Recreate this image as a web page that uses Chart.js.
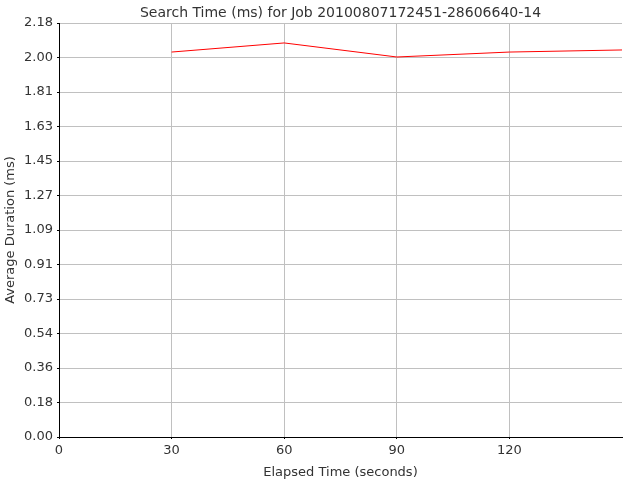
<!DOCTYPE html>
<html>
<head>
<meta charset="utf-8">
<script src="https://cdn.jsdelivr.net/npm/chart.js@4"></script>
<style>
  body { margin: 0; background: #fff; }
  #wrap { width: 640px; height: 480px; }
</style>
</head>
<body>
<div id="wrap"><canvas id="chart"></canvas></div>
<script>
const elapsed = [30, 60, 90, 120, 150];
const avgDuration = [2.027, 2.075, 2.001, 2.027, 2.038];
const xTicks = [0, 30, 60, 90, 120];
const yTickLabels = ['0.00', '0.18', '0.36', '0.54', '0.73', '0.91', '1.09', '1.27', '1.45', '1.63', '1.81', '2.00', '2.18'];
const yMax = 2.18;
const xMax = 150;

const font = { family: 'DejaVu Sans', size: 13, weight: 'normal' };
const titleFont = { family: 'DejaVu Sans', size: 14, weight: 'normal' };
const textColor = '#333';

const ctx = document.getElementById('chart');

new Chart(ctx, {
  type: 'line',
  data: {
    datasets: [{
      label: 'Search Time',
      data: elapsed.map((x, i) => ({ x: x, y: avgDuration[i] })),
      borderColor: '#ff0000',
      backgroundColor: '#ff0000',
      borderWidth: 1,
      pointRadius: 0,
      tension: 0
    }]
  },
  options: {
    responsive: true,
    maintainAspectRatio: false,
    animation: false,
    layout: { padding: { left: 0, right: 18, top: 0, bottom: 0 } },
    plugins: {
      legend: { display: false },
      tooltip: { enabled: false },
      title: {
        display: true,
        fullSize: false,
        text: 'Search Time (ms) for Job 20100807172451-28606640-14',
        color: textColor,
        font: titleFont,
        padding: { top: 5, bottom: 1.2 }
      }
    },
    scales: {
      x: {
        type: 'linear',
        min: 0,
        max: xMax,
        afterBuildTicks: (scale) => { scale.ticks = xTicks.map(v => ({ value: v })); },
        afterFit: (scale) => { scale.height = 43; },
        ticks: { color: textColor, font: font, padding: 4, maxRotation: 0 },
        grid: { color: '#c0c0c0', tickColor: '#000', tickLength: 2 },
        border: { display: true, color: '#000', width: 1 },
        title: { display: true, text: 'Elapsed Time (seconds)', color: textColor, font: font, padding: { top: 4, bottom: 0 } }
      },
      y: {
        type: 'linear',
        min: 0,
        max: yMax,
        afterBuildTicks: (scale) => { scale.ticks = yTickLabels.map((t, i) => ({ value: i * yMax / 12 })); },
        afterFit: (scale) => { scale.width = 59; },
        ticks: {
          color: textColor,
          font: font,
          padding: 4,
          callback: (v, i) => yTickLabels[i]
        },
        grid: { color: '#c0c0c0', tickColor: '#000', tickLength: 2 },
        border: { display: true, color: '#000', width: 1 },
        title: { display: true, text: 'Average Duration (ms)', color: textColor, font: font, padding: { top: 3, bottom: 0 } }
      }
    }
  }
});
</script>
</body>
</html>
